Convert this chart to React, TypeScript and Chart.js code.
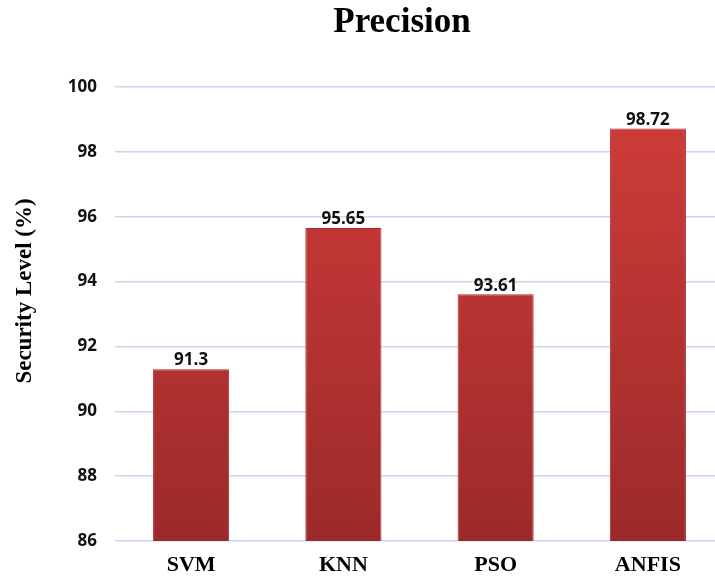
import React, { useEffect, useRef } from "react";
import { Chart, registerables } from "chart.js";

Chart.register(...registerables);

const categories = ["SVM", "KNN", "PSO", "ANFIS"];
const precisionValues = [91.3, 95.65, 93.61, 98.72];
const valueLabels = ["91.3", "95.65", "93.61", "98.72"];
const yMin = 86;
const yMax = 100;
const yStep = 2;
const chartTitle = "Precision";
const yAxisTitle = "Security Level (%)";

const W = 730;
const H = 579;

export default function App() {
  const ref = useRef<HTMLCanvasElement | null>(null);

  useEffect(() => {
    if (!ref.current) return;
    const titlePlugin = {
      id: "customTitle",
      afterDraw(chart: any) {
        const ctx = chart.ctx;
        ctx.save();
        ctx.font = "bold 35px 'Liberation Serif', 'Times New Roman', serif";
        ctx.fillStyle = "#000";
        ctx.textAlign = "center";
        ctx.textBaseline = "middle";
        ctx.fillText(chartTitle, 402, 23);
        ctx.restore();
        ctx.save();
        ctx.translate(25, 291);
        ctx.rotate(-Math.PI / 2);
        ctx.font = "bold 23px 'Liberation Serif', 'Times New Roman', serif";
        ctx.fillStyle = "#000";
        ctx.textAlign = "center";
        ctx.textBaseline = "middle";
        ctx.fillText(yAxisTitle, 0, 0);
        ctx.restore();
      },
    };
    const valuePlugin = {
      id: "valueLabels",
      afterDatasetsDraw(chart: any) {
        const ctx = chart.ctx;
        const meta = chart.getDatasetMeta(0);
        ctx.save();
        ctx.font = "bold 17px 'Open Sans', 'DejaVu Sans', sans-serif";
        ctx.fillStyle = "#111";
        ctx.textAlign = "center";
        ctx.textBaseline = "bottom";
        meta.data.forEach((bar: any, i: number) => {
          ctx.fillText(valueLabels[i], bar.x, bar.y);
        });
        ctx.restore();
      },
    };
    const chart = new Chart(ref.current, {
      type: "bar",
      data: {
        labels: categories,
        datasets: [
          {
            data: precisionValues,
            backgroundColor: (c: any) => {
              const area = c.chart.chartArea;
              if (!area) return "#c0393a";
              const g = c.chart.ctx.createLinearGradient(0, area.top, 0, area.bottom);
              g.addColorStop(0, "#d13d3a");
              g.addColorStop(1, "#9c2a2a");
              return g;
            },
            borderColor: "#a82a28",
            borderWidth: 1,
            categoryPercentage: 1,
            barPercentage: 0.5,
          },
        ],
      },
      options: {
        responsive: false,
        animation: false,
        devicePixelRatio: 1,
        layout: { padding: { top: 87, right: 6, left: 0, bottom: 0 } },
        plugins: {
          legend: { display: false },
          tooltip: { enabled: false },
          title: { display: false },
        },
        scales: {
          x: {
            grid: { display: false, drawTicks: false },
            border: { display: false },
            ticks: {
              color: "#000",
              padding: 11,
              font: { family: "'Liberation Serif', 'Times New Roman', serif", size: 22, weight: "bold" },
            },
            afterFit: (s: any) => {
              s.height = 38;
            },
          },
          y: {
            min: yMin,
            max: yMax,
            ticks: {
              stepSize: yStep,
              color: "#111",
              padding: 18,
              font: { family: "'Open Sans', 'DejaVu Sans', sans-serif", size: 17, weight: "bold" },
            },
            grid: { color: "#c5d8ef", lineWidth: 1.5, drawTicks: false },
            border: { display: false },
            title: { display: false },
            afterFit: (s: any) => {
              s.width = 115;
            },
          },
        },
      },
      plugins: [titlePlugin, valuePlugin],
    } as any);
    return () => chart.destroy();
  }, []);

  return (
    <div
      style={{
        position: "fixed",
        left: 0,
        top: 0,
        width: 715,
        height: 579,
        overflow: "hidden",
        background: "#fff",
      }}
    >
      <canvas ref={ref} width={W} height={H} style={{ display: "block", width: W, height: H }} />
    </div>
  );
}
